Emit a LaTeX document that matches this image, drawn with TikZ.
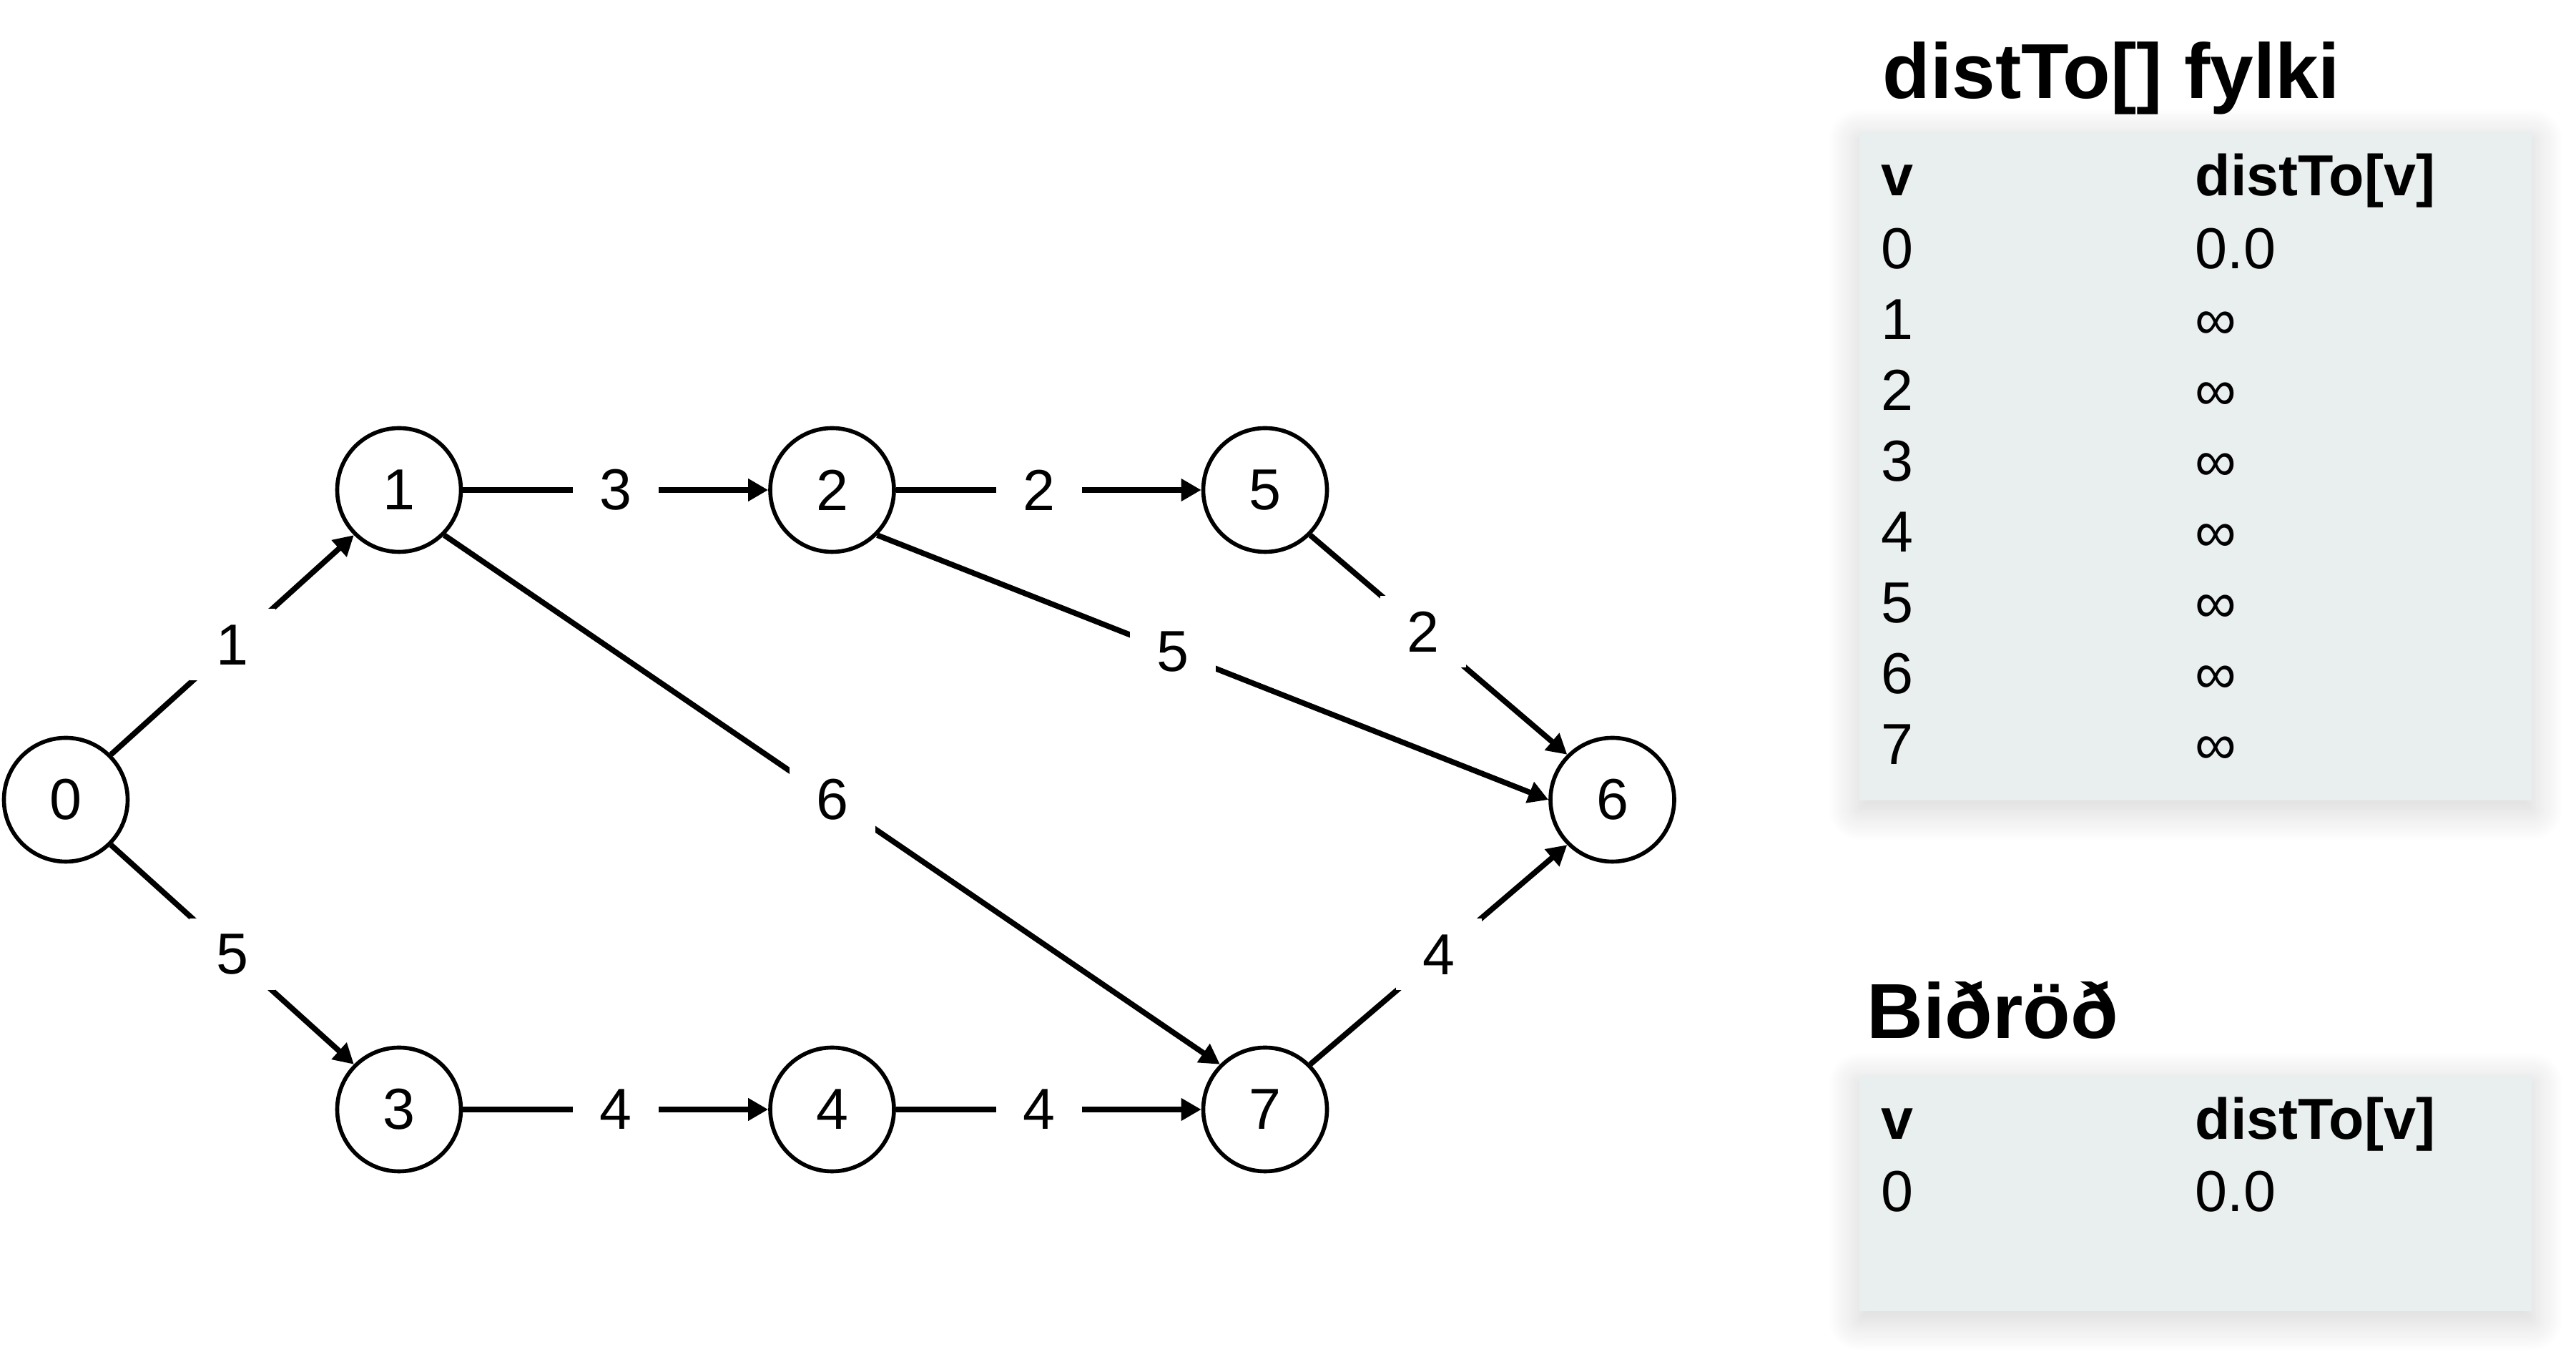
\documentclass[tikz,border=0pt]{standalone}
\usepackage{fontspec}
\setmainfont{Liberation Sans}
\usetikzlibrary{arrows.meta,shadows.blur}
\definecolor{tablegray}{RGB}{233,238,238}

\begin{document}
\begin{tikzpicture}[
        vertex/.style={circle, draw, line width=1.6pt, fill=white, minimum size=1.73cm, inner sep=0pt, font=\fontsize{23}{27}\selectfont},
        weight/.style={fill=white, inner sep=0pt, minimum width=1.2cm, minimum height=1cm, font=\fontsize{23}{27}\selectfont},
        edge/.style={line width=2.2pt, -{Triangle[length=0.28cm,width=0.3cm]}},
        tablebox/.style={fill=tablegray, blur shadow={shadow xshift=0cm, shadow yshift=-0.12cm, shadow blur radius=0.45cm, shadow blur steps=25, shadow opacity=18}},
        cell/.style={anchor=base west, inner sep=0pt, font=\fontsize{23}{27}\selectfont},
        headcell/.style={cell, font=\fontsize{23}{27}\selectfont\bfseries},
        heading/.style={anchor=base west, inner sep=0pt, font=\fontsize{31}{37}\selectfont\bfseries}]
    \useasboundingbox (0,0) rectangle (36.02,19.11);

    % graph
    \node[vertex] (n0) at (0.92,7.93) {0};
    \node[vertex] (n1) at (5.58,12.26) {1};
    \node[vertex] (n2) at (11.635,12.26) {2};
    \node[vertex] (n5) at (17.69,12.26) {5};
    \node[vertex] (n6) at (22.545,7.93) {6};
    \node[vertex] (n3) at (5.58,3.60) {3};
    \node[vertex] (n4) at (11.635,3.60) {4};
    \node[vertex] (n7) at (17.69,3.60) {7};

    \draw[edge] (n0.north east) -- node[weight] (w01) {1} (n1.south west);
    \draw[edge] (n0.south east) -- node[weight] (w03) {5} (n3.north west);
    \draw[edge] (n1.east) -- node[weight] (w12) {3} (n2.west);
    \draw[edge] (n1.south east) -- node[weight] (w17) {6} (n7.north west);
    \draw[edge] (n2.east) -- node[weight, pos=0.47] (w25) {2} (n5.west);
    \draw[edge] (n2.south east) -- node[weight, pos=0.44] (w26) {5} (n6.west);
    \draw[edge] (n5.south east) -- node[weight, pos=0.44] (w56) {2} (n6.north west);
    \draw[edge] (n3.east) -- node[weight] (w34) {4} (n4.west);
    \draw[edge] (n4.east) -- node[weight, pos=0.47] (w47) {4} (n7.west);
    \draw[edge] (n7.north east) -- node[weight] (w76) {4} (n6.south west);

    % distTo[] table
    \node[heading] (distTitle) at (26.32,17.73) {distTo[] fylki};
    \path[tablebox] (26.00,7.92) rectangle (35.40,17.27);
    \node[headcell] (vHead) at (26.30,16.37) {v};
    \node[headcell] (dHead) at (30.69,16.37) {distTo[v]};
    \foreach \v/\d in {0/0.0,1/∞,2/∞,3/∞,4/∞,5/∞,6/∞,7/∞} {
        \node[cell] (v\v) at (26.30,{15.35-0.99*\v}) {\v};
        \node[cell] (d\v) at (30.69,{15.35-0.99*\v}) {\d};
    }

    % queue table
    \node[heading] (queueTitle) at (26.10,4.59) {Biðröð};
    \path[tablebox] (26.00,0.78) rectangle (35.40,4.08);
    \node[headcell] (qvHead) at (26.30,3.18) {v};
    \node[headcell] (qdHead) at (30.69,3.18) {distTo[v]};
    \node[cell] (qv0) at (26.30,2.17) {0};
    \node[cell] (qd0) at (30.69,2.17) {0.0};
\end{tikzpicture}
\end{document}
